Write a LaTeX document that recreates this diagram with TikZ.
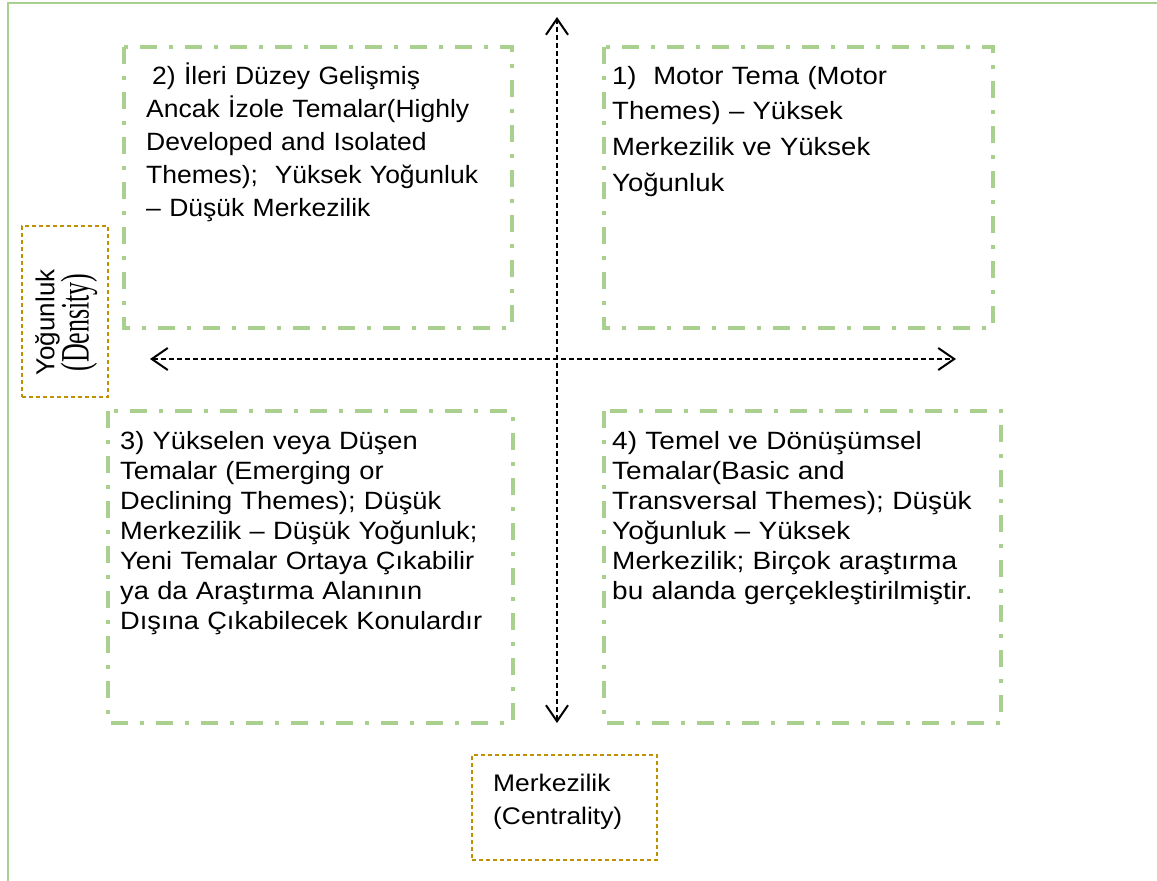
\documentclass[tikz,border=0pt]{standalone}
\usepackage{fontspec}
\setmainfont{Liberation Sans}
\newfontfamily\timesf{Liberation Serif}
\newfontfamily\fsA[FakeStretch=1.06]{Liberation Sans}
\newfontfamily\fsB[FakeStretch=1.10]{Liberation Sans}
\newfontfamily\fsC[FakeStretch=1.09]{Liberation Sans}
\newfontfamily\fsD[FakeStretch=1.12]{Liberation Sans}
\usetikzlibrary{arrows.meta}
\definecolor{boxgreen}{HTML}{A9D08E}
\definecolor{labgold}{HTML}{BF9000}
\tikzset{
  quad/.style={draw=boxgreen, line width=4pt, dash pattern=on 17pt off 12pt on 4pt off 12pt},
  labbox/.style={draw=labgold, line width=1.3pt, dash pattern=on 4pt off 3pt},
  axis/.style={line width=2pt, dash pattern=on 5pt off 3pt, {Straight Barb[length=16pt,width=22pt]}-{Straight Barb[length=16pt,width=22pt]}},
  qtext/.style={anchor=base west, inner sep=0pt, text width=440pt, align=left},
}
\begin{document}
\begin{tikzpicture}[x=1pt,y=-1pt]
\useasboundingbox (0,0) rectangle (1157,881);
% outer frame
\draw[boxgreen, line width=2pt] (1157,2.7) -- (7.7,2.7) -- (7.7,881);
% quadrant boxes
\draw[quad] (124,47) rectangle (512,328);
\draw[quad] (604,47) rectangle (993,328);
\draw[quad] (108,411) rectangle (513,723);
\draw[quad] (604,411) rectangle (1001,723);
% texts
\node[qtext, font=\fsA\fontsize{25}{33}\selectfont] (t2) at (146,84) {\hspace{6pt}2) İleri Düzey Gelişmiş\\Ancak İzole Temalar(Highly\\Developed and Isolated\\Themes);\ \ Yüksek Yoğunluk\\– Düşük Merkezilik};
\node[qtext, font=\fsB\fontsize{25}{35.7}\selectfont] (t1) at (612,84) {1)\ \ Motor Tema (Motor\\Themes) – Yüksek\\Merkezilik ve Yüksek\\Yoğunluk};
\node[qtext, font=\fsC\fontsize{25}{30}\selectfont] (t3) at (120,449) {3) Yükselen veya Düşen\\Temalar (Emerging or\\Declining Themes); Düşük\\Merkezilik – Düşük Yoğunluk;\\Yeni Temalar Ortaya Çıkabilir\\ya da Araştırma Alanının\\Dışına Çıkabilecek Konulardır};
\node[qtext, font=\fsD\fontsize{25}{30}\selectfont] (t4) at (612,449) {4) Temel ve Dönüşümsel\\Temalar(Basic and\\Transversal Themes); Düşük\\Yoğunluk – Yüksek\\Merkezilik; Birçok araştırma\\bu alanda gerçekleştirilmiştir.};
% axes
\coordinate (vtop) at (557,17);
\coordinate (vbot) at (557,723);
\coordinate (hleft) at (150,359);
\coordinate (hright) at (956,359);
\draw[axis] (vbot) -- (vtop);
\draw[axis] (hleft) -- (hright);
% axis labels
\node[labbox, minimum width=86pt, minimum height=171pt, inner sep=0pt] (dens) at (65,311.5) {};
\node[rotate=90, anchor=north, inner sep=0pt, align=center, font=\fontsize{26}{32}\selectfont] (denstext) at (35,322.5) {Yoğunluk\\{\timesf\fontsize{26}{32}\selectfont\scalebox{1}[1.55]{(Density)}}};
\node[labbox, minimum width=185pt, minimum height=105pt, inner sep=0pt] (cent) at (564.5,807.5) {};
\node[anchor=base west, inner sep=0pt, text width=170pt, align=left, font=\fsB\fontsize{24}{33}\selectfont] (centtext) at (493,791) {Merkezilik\\(Centrality)};
\end{tikzpicture}
\end{document}
